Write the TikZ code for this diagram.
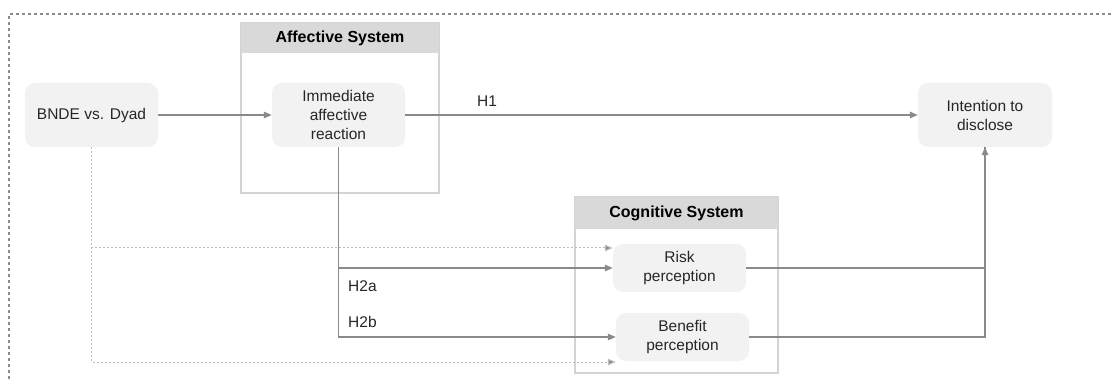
\documentclass[tikz,border=0pt]{standalone}
\usepackage{fontspec}
\setmainfont{Liberation Sans}
\usetikzlibrary{arrows.meta,calc}
\definecolor{boxfill}{HTML}{F2F2F2}
\definecolor{headfill}{HTML}{D9D9D9}
\definecolor{frameline}{HTML}{D4D4D4}
\definecolor{conn}{HTML}{8A8A8A}
\definecolor{dotconn}{HTML}{BDBDBD}
\definecolor{outer}{HTML}{8C8C8C}
\definecolor{txt}{HTML}{262626}
\tikzset{
  var/.style={fill=boxfill, rounded corners=10pt, align=center, inner sep=0pt,
    text=txt, font=\fontsize{15.5}{19}\selectfont},
  sysframe/.style={draw=frameline, line width=1.5pt, fill=white},
  syshead/.style={fill=headfill, inner sep=0pt, text=black, font=\fontsize{16}{19}\selectfont\bfseries},
  conn/.style={draw=conn, line width=1.3pt, -{Triangle[length=8pt,width=6.5pt]}},
  plainconn/.style={draw=conn, line width=1.3pt},
  dotconn/.style={draw=dotconn, line width=1pt, dash pattern=on 2pt off 2pt, -{Triangle[length=8pt,width=6.5pt,fill=conn]}},
  hlab/.style={text=txt, font=\fontsize{15.5}{19}\selectfont, inner sep=0pt, anchor=west},
}
\begin{document}
\begin{tikzpicture}[x=1pt,y=-1pt]
\useasboundingbox (0,0) rectangle (1111,379);
% outer dotted frame (open at right and bottom)
\draw[outer, line width=2.2pt, dash pattern=on 3pt off 3pt] (9,379) -- (9,14) -- (1111,14);
% affective system
\draw[sysframe] (241,23) rectangle (439,193);
\node[syshead, minimum width=198pt, minimum height=30pt] (affhead) at (340,38) {Affective System};
% cognitive system
\draw[sysframe] (575,197) rectangle (778,373);
\node[syshead, minimum width=203pt, minimum height=32pt] (coghead) at (676.5,213) {Cognitive System};
% variables
\node[var, minimum width=133pt, minimum height=64pt] (bnde) at (91.5,115) {BNDE vs. Dyad};
\node[var, minimum width=133pt, minimum height=64pt] (imm) at (338.5,115) {Immediate\\affective\\reaction};
\node[var, minimum width=134pt, minimum height=64pt] (intent) at (985,115) {Intention to\\disclose};
\node[var, minimum width=133pt, minimum height=48pt] (risk) at (679.5,268) {Risk\\perception};
\node[var, minimum width=133pt, minimum height=48pt] (benefit) at (682.5,337) {Benefit\\perception};
% dotted direct paths
\draw[dotconn] (bnde.south) |- ($(risk.west)+(0,-20)$);
\draw[dotconn] (bnde.south) |- ($(benefit.west)+(0,25)$);
% main connectors
\draw[conn] (bnde.east) -- (imm.west);
\draw[conn] (imm.east) -- (intent.west);
\draw[conn] (imm.south) |- (risk.west);
\draw[conn] (imm.south) |- (benefit.west);
\draw[plainconn] (risk.east) -| (intent.south);
\draw[conn] (benefit.east) -| (intent.south);
% labels
\node[hlab] (h1) at (477,101) {H1};
\node[hlab] (h2a) at (348,286) {H2a};
\node[hlab] (h2b) at (348,322) {H2b};
\end{tikzpicture}
\end{document}
